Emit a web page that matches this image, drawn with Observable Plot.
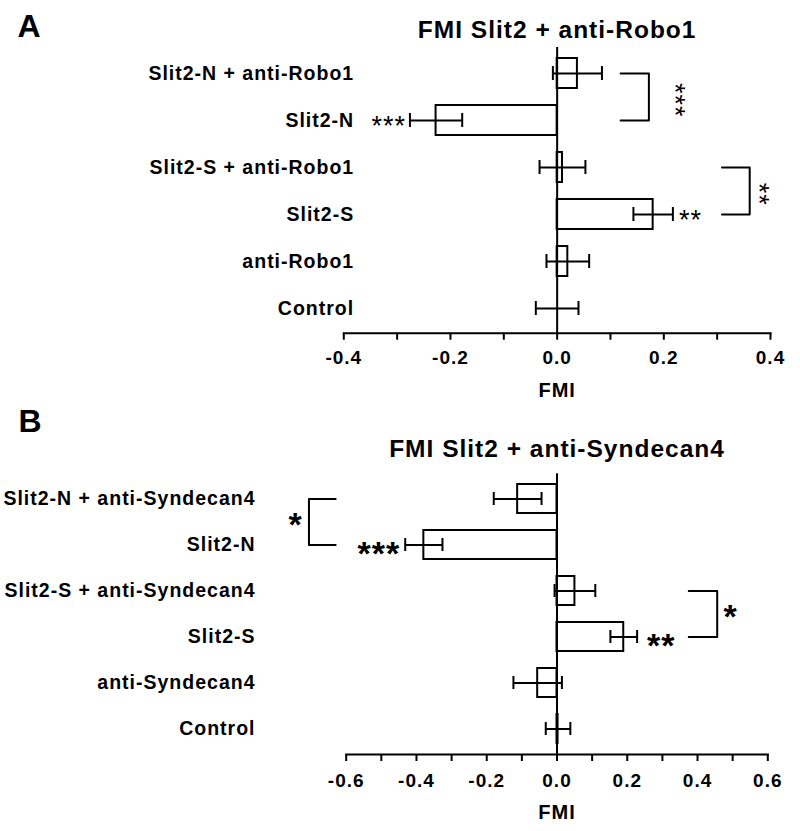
<!DOCTYPE html>
<html>
<head>
<meta charset="utf-8">
<script src="https://cdn.jsdelivr.net/npm/d3@7"></script>
<script src="https://cdn.jsdelivr.net/npm/@observablehq/plot@0.6"></script>
<style>
  html, body { margin: 0; padding: 0; background: #fff; }
  #wrap { width: 800px; height: 831px; overflow: hidden; }
  #wrap svg { display: block; }
</style>
</head>
<body>
<div id="wrap"></div>
<script>
// ---------- Panel A data ----------
const catsA = ["Slit2-N + anti-Robo1", "Slit2-N", "Slit2-S + anti-Robo1", "Slit2-S", "anti-Robo1", "Control"];
const meanA = [0.038, -0.227, 0.010, 0.180, 0.020, 0.000];
const errA  = [0.046, 0.049, 0.043, 0.037, 0.040, 0.040];
const ticksA = [-0.4, -0.3, -0.2, -0.1, 0, 0.1, 0.2, 0.3, 0.4];
const titleA = "FMI Slit2 + anti-Robo1";
const sigA = [
  {cat: "Slit2-N", side: "left", text: "***"},
  {cat: "Slit2-S", side: "right", text: "**"}
];
const bracketsA = [
  {a: "Slit2-N + anti-Robo1", b: "Slit2-N", tip: 0.119, spine: 0.172, label: "***", lx: 0.231},
  {a: "Slit2-S + anti-Robo1", b: "Slit2-S", tip: 0.309, spine: 0.361, label: "**", lx: 0.389}
];

// ---------- Panel B data ----------
const catsB = ["Slit2-N + anti-Syndecan4", "Slit2-N", "Slit2-S + anti-Syndecan4", "Slit2-S", "anti-Syndecan4", "Control"];
const meanB = [-0.112, -0.379, 0.051, 0.190, -0.055, 0.003];
const errB  = [0.068, 0.053, 0.058, 0.038, 0.069, 0.035];
const ticksB = [-0.6, -0.5, -0.4, -0.3, -0.2, -0.1, 0, 0.1, 0.2, 0.3, 0.4, 0.5, 0.6];
const titleB = "FMI Slit2 + anti-Syndecan4";
const sigB = [
  {cat: "Slit2-N", side: "left", text: "***"},
  {cat: "Slit2-S", side: "right", text: "**"}
];
const bracketsB = [
  {a: "Slit2-N + anti-Syndecan4", b: "Slit2-N", tip: -0.630, spine: -0.706, label: "*", lx: -0.744},
  {a: "Slit2-S + anti-Syndecan4", b: "Slit2-S", tip: 0.375, spine: 0.456, label: "*", lx: 0.494}
];

const FONT = "'Liberation Sans', Arial, Helvetica, sans-serif";

function panel(cfg) {
  const rows = cfg.cats.map((c, i) => ({cat: c, mean: cfg.mean[i], err: cfg.err[i]}));
  const step = (cfg.height - cfg.mt - cfg.mb) / cfg.cats.length;
  const bpts = [];
  cfg.brackets.forEach((b, i) => {
    bpts.push({id: i, x: b.tip, y: b.a});
    bpts.push({id: i, x: b.spine, y: b.a});
    bpts.push({id: i, x: b.spine, y: b.b});
    bpts.push({id: i, x: b.tip, y: b.b});
  });
  const sigRows = cfg.sig.map(s => {
    const r = rows.find(r => r.cat === s.cat);
    return {...s, x: s.side === "left" ? r.mean - r.err : r.mean + r.err};
  });
  const fmt = d => (Math.round(d * 10) % 2 === 0 ? d.toFixed(1) : "");
  const svg = Plot.plot({
    width: 800,
    height: cfg.height,
    marginLeft: cfg.ml,
    marginRight: cfg.mr,
    marginTop: cfg.mt,
    marginBottom: cfg.mb,
    style: {fontFamily: FONT, color: "#000", background: "#fff", overflow: "visible", letterSpacing: "1px"},
    x: {domain: cfg.domain, axis: null},
    y: {domain: cfg.cats, type: "band", paddingInner: 0.37, paddingOuter: 0.185, axis: null},
    marks: [
      Plot.barX(rows, {y: "cat", x1: 0, x2: "mean", fill: "white", stroke: "black", strokeWidth: 2}),
      Plot.ruleY(rows, {y: "cat", x1: d => d.mean - d.err, x2: d => d.mean + d.err, stroke: "black", strokeWidth: 2}),
      Plot.tickX(rows, {y: "cat", x: d => d.mean - d.err, stroke: "black", strokeWidth: 2, insetTop: 8, insetBottom: 8}),
      Plot.tickX(rows, {y: "cat", x: d => d.mean + d.err, stroke: "black", strokeWidth: 2, insetTop: 8, insetBottom: 8}),
      Plot.ruleX([0], {stroke: "black", strokeWidth: 2}),
      Plot.frame({anchor: "bottom", stroke: "black", strokeWidth: 2}),
      Plot.axisX({ticks: cfg.ticks, tickSize: 7, tickPadding: cfg.tp, tickFormat: fmt, fontSize: 19, fontWeight: "bold", strokeWidth: 2, label: null}),
      Plot.text(cfg.cats, {y: d => d, text: d => d, frameAnchor: "left", lineAnchor: "middle", textAnchor: "end", dx: cfg.labelDx, fontSize: 19.5, fontWeight: "bold"}),
      Plot.text([cfg.title], {text: d => d, frameAnchor: "top", lineAnchor: "middle", dy: cfg.titleDy, fontSize: 24.5, fontWeight: "bold", ariaLabel: "title"}),
      Plot.text([cfg.letter], {text: d => d, frameAnchor: "top-left", lineAnchor: "middle", textAnchor: "start", dx: cfg.letterDx, dy: cfg.letterDy, fontSize: 32, fontWeight: "bold", ariaLabel: "letter"}),
      Plot.text(["FMI"], {text: d => d, frameAnchor: "bottom", lineAnchor: "middle", dy: cfg.fmiDy, fontSize: 20, fontWeight: "bold"}),
      Plot.line(bpts, {x: "x", y: "y", z: "id", stroke: "black", strokeWidth: 2}),
      Plot.text(sigRows.filter(s => s.side === "left"), {x: "x", y: "cat", text: "text", lineAnchor: "middle", textAnchor: "end", dx: cfg.sigLeftDx, dy: cfg.sigDy, fontSize: cfg.starSize, fontWeight: cfg.starWeight, ariaLabel: "stars"}),
      Plot.text(sigRows.filter(s => s.side === "right"), {x: "x", y: "cat", text: "text", lineAnchor: "middle", textAnchor: "start", dx: cfg.sigRightDx, dy: cfg.sigDy, fontSize: cfg.starSize, fontWeight: cfg.starWeight, ariaLabel: "stars"}),
      Plot.text(cfg.brackets, {x: "lx", y: "a", text: "label", lineAnchor: "middle", rotate: cfg.bracketRotate, dx: cfg.bracketDx, dy: step / 2 + cfg.bracketDy, fontSize: cfg.starSize, fontWeight: cfg.starWeight, ariaLabel: "stars"})
    ]
  });
  svg.querySelectorAll('g[aria-label="title"]').forEach(g => g.style.letterSpacing = "1.2px");
  svg.querySelectorAll('g[aria-label="letter"]').forEach(g => g.style.letterSpacing = "0px");
  svg.querySelectorAll('g[aria-label="stars"]').forEach(g => g.style.letterSpacing = cfg.starSpacing);
  return svg;
}

const wrap = document.getElementById("wrap");
wrap.appendChild(panel({
  cats: catsA, mean: meanA, err: errA, ticks: ticksA, domain: [-0.4, 0.4],
  title: titleA, letter: "A", sig: sigA, brackets: bracketsA,
  height: 400, ml: 343.3, mr: 30, mt: 47, mb: 67.3, tp: 10,
  labelDx: 10.4, titleDy: -17, letterDx: -326.3, letterDy: -21, fmiDy: 57,
  starSize: 27, starWeight: "normal", starSpacing: "2.5px",
  sigLeftDx: -4, sigRightDx: 6, sigDy: 6,
  bracketRotate: 90, bracketDx: -6, bracketDy: 3
}));
wrap.appendChild(panel({
  cats: catsB, mean: meanB, err: errB, ticks: ticksB, domain: [-0.6, 0.6],
  title: titleB, letter: "B", sig: sigB, brackets: bracketsB,
  height: 431, ml: 345.7, mr: 32.7, mt: 73.3, mb: 77, tp: 12,
  labelDx: -90.7, titleDy: -24.3, letterDx: -327.7, letterDy: -52.3, fmiDy: 58,
  starSize: 34, starWeight: "bold", starSpacing: "4.5px",
  sigLeftDx: -5, sigRightDx: 10, sigDy: 9,
  bracketRotate: 0, bracketDx: 0, bracketDy: 2.5
}));
</script>
</body>
</html>
